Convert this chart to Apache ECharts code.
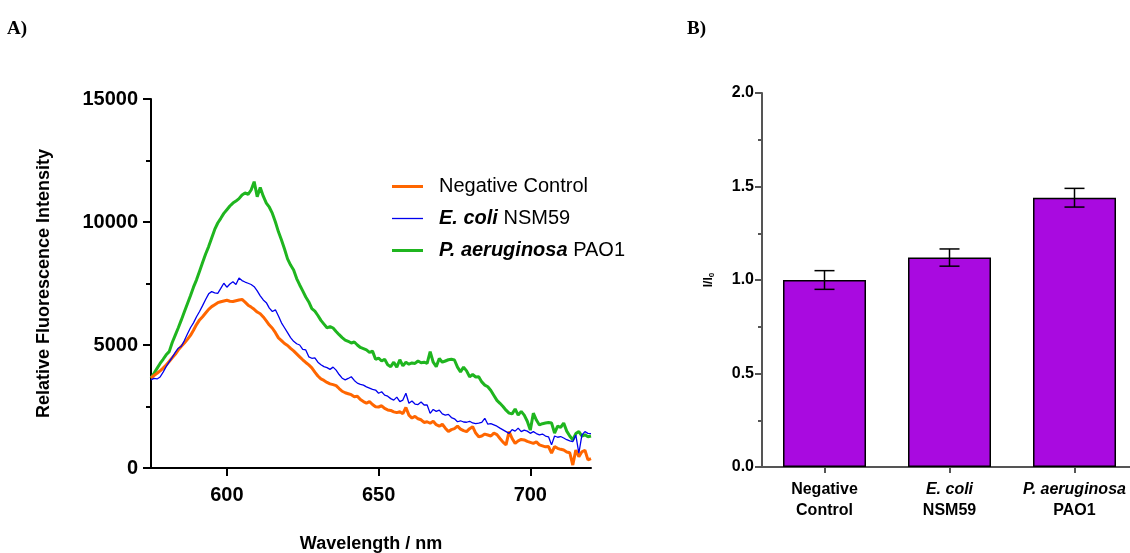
<!DOCTYPE html>
<html>
<head>
<meta charset="utf-8">
<script src="https://cdn.jsdelivr.net/npm/echarts@6/dist/echarts.min.js"></script>
<style>html,body{margin:0;padding:0;background:#fff;}#c{width:1130px;height:553px;}</style>
</head>
<body>
<div id="c"></div>
<script>
// ---- Panel A data ----
const wavelengths = [575,576,577,578,579,580,581,582,583,584,585,586,587,588,589,590,591,592,593,594,595,596,597,598,599,600,601,602,603,604,605,606,607,608,609,610,611,612,613,614,615,616,617,618,619,620,621,622,623,624,625,626,627,628,629,630,631,632,633,634,635,636,637,638,639,640,641,642,643,644,645,646,647,648,649,650,651,652,653,654,655,656,657,658,659,660,661,662,663,664,665,666,667,668,669,670,671,672,673,674,675,676,677,678,679,680,681,682,683,684,685,686,687,688,689,690,691,692,693,694,695,696,697,698,699,700,701,702,703,704,705,706,707,708,709,710,711,712,713,714,715,716,717,718,719,720];
const negativeControl = [3660,3760,3850,3950,4060,4190,4330,4480,4620,4800,4950,5080,5230,5390,5600,5830,6020,6150,6300,6450,6560,6640,6720,6760,6790,6820,6780,6770,6800,6830,6850,6740,6620,6540,6450,6340,6270,6140,5980,5810,5680,5500,5290,5180,5060,4980,4860,4760,4640,4520,4400,4290,4190,4070,3900,3740,3620,3560,3480,3420,3390,3350,3230,3120,3060,3020,2980,2900,2920,2780,2700,2640,2700,2580,2490,2480,2530,2420,2360,2340,2280,2250,2290,2210,2460,2150,2030,2100,2000,1960,1850,1880,1820,1900,1760,1700,1780,1620,1480,1560,1600,1700,1580,1520,1480,1600,1680,1420,1270,1300,1380,1340,1300,1420,1360,1200,1050,940,1480,1200,1000,1100,1160,1140,1080,1040,1000,1060,940,900,860,870,600,870,800,760,730,650,620,120,730,460,660,720,330,380];
const eColi = [3580,3640,3620,3700,3900,4120,4310,4500,4700,4870,4950,5180,5450,5700,5900,6150,6360,6600,6850,7080,7170,7120,7100,7300,7510,7350,7480,7570,7460,7720,7620,7560,7510,7460,7370,7200,7000,6830,6720,6500,6360,6430,6180,5900,5700,5500,5300,5150,5050,5000,4820,4800,4520,4460,4480,4300,4200,4120,4080,4010,4100,3980,3800,3650,3580,3640,3710,3560,3450,3400,3370,3300,3250,3200,3170,3040,3100,2960,2920,2820,2760,2880,2700,2760,3040,2630,2720,2600,2580,2680,2560,2560,2220,2380,2300,2350,2200,2150,2180,2050,2000,1880,1920,1870,1860,1900,1830,1800,1820,1850,2020,1780,1800,1750,1700,1620,1550,1480,1410,1560,1500,1620,1480,1540,1500,1410,1480,1400,1350,1380,1300,1270,940,1300,1250,1280,1220,1150,1100,1070,1340,600,1340,1480,1410,1400];
const pAeruginosa = [3660,3850,4050,4250,4420,4600,4730,5100,5400,5700,6020,6350,6680,7000,7350,7650,8000,8350,8700,9000,9350,9700,9960,10150,10350,10500,10650,10770,10850,10950,11100,11180,11120,11300,11640,11030,11400,11050,10770,10600,10350,10000,9600,9270,8900,8500,8250,8050,7700,7440,7200,6950,6750,6480,6380,6200,6000,5850,5700,5750,5690,5550,5420,5300,5200,5150,5080,5120,5000,4900,4850,4800,4700,4750,4420,4470,4350,4420,4200,4120,4300,4100,4400,4150,4300,4220,4270,4250,4350,4280,4300,4250,4730,4300,4120,4450,4300,4350,4400,4420,4390,4100,3910,4100,3950,3710,3800,3700,3710,3500,3370,3300,3150,2950,2750,2630,2500,2350,2230,2200,2400,2150,2300,2150,1900,1540,2230,1950,1750,1800,1830,1850,1830,1420,1700,1650,1830,1500,1300,1140,1400,1480,1300,1350,1270,1300];
const seriesNames = ['Negative Control', 'E. coli NSM59', 'P. aeruginosa PAO1'];
const xTickValues = [600, 650, 700];

// ---- Panel B data ----
const barCategories = ['Negative\nControl', 'E. coli\nNSM59', 'P. aeruginosa\nPAO1'];
const italicFirstLine = [false, true, true];
const ratioValues = [1.00, 1.12, 1.44];
const ratioErrors = [0.05, 0.046, 0.05];

const SANS = '"Liberation Sans", Arial, sans-serif';

function pairs(ys){ return wavelengths.map((w,i)=>[w, ys[i]]); }

const chart = echarts.init(document.getElementById('c'), null, {renderer:'canvas'});
chart.setOption({
  animation: false,
  backgroundColor: '#fff',
  title: [
    {text:'A)', left:2, top:15, textStyle:{fontFamily:'"Liberation Serif", "Times New Roman", serif', fontWeight:'bold', fontSize:19, color:'#000'}},
    {text:'B)', left:682, top:15, textStyle:{fontFamily:'"Liberation Serif", "Times New Roman", serif', fontWeight:'bold', fontSize:19, color:'#000'}}
  ],
  legend: {
    orient: 'vertical',
    left: 387, top: 171,
    itemWidth: 31, itemHeight: 14, itemGap: 11,
    data: [
      {name: seriesNames[0], icon: 'path://M0,0 L31,0 L31,3 L0,3 Z', itemStyle:{color:'#ff6600'}},
      {name: seriesNames[1], icon: 'path://M0,0 L31,0 L31,1.3 L0,1.3 Z', itemStyle:{color:'#0000ee'}},
      {name: seriesNames[2], icon: 'path://M0,0 L31,0 L31,3 L0,3 Z', itemStyle:{color:'#1fb51f'}}
    ],
    formatter: function(name){
      if (name === 'E. coli NSM59') return '{i|E. coli} NSM59';
      if (name === 'P. aeruginosa PAO1') return '{i|P. aeruginosa} PAO1';
      return name;
    },
    textStyle: {
      fontFamily: SANS, fontSize: 20, color:'#000', lineHeight: 21, padding:[0,0,0,11],
      rich: { i: {fontFamily: SANS, fontSize: 20, fontStyle:'italic', fontWeight:'bold', color:'#000'} }
    }
  },
  grid: [
    {left:151, top:99, width:440, height:369, outerBoundsMode:'none', containLabel:false},
    {left:762, top:93, width:375, height:374, outerBoundsMode:'none', containLabel:false}
  ],
  xAxis: [
    {
      gridIndex:0, type:'value', min:575, max:720,
      axisLine:{show:true, onZero:false, lineStyle:{color:'#000', width:2}},
      axisTick:{show:true, length:8, lineStyle:{color:'#000', width:2}, customValues: xTickValues},
      axisLabel:{fontFamily:SANS, fontWeight:'bold', fontSize:20, color:'#000', margin:17, customValues: xTickValues, formatter: v => String(v)},
      splitLine:{show:false},
      name:'Wavelength / nm', nameLocation:'middle', nameGap:67,
      nameTextStyle:{fontFamily:SANS, fontWeight:'bold', fontSize:18, color:'#000'}
    },
    {
      gridIndex:1, type:'category', data: barCategories,
      axisLine:{show:true, lineStyle:{color:'#555', width:2}},
      axisTick:{show:true, alignWithLabel:true, length:6, lineStyle:{color:'#555', width:2}},
      axisLabel:{
        margin:12, interval:0, color:'#000',
        formatter: function(v, idx){
          const parts = v.split('\n');
          return (italicFirstLine[idx] ? '{it|' + parts[0] + '}' : '{b|' + parts[0] + '}') + '\n{b|' + parts[1] + '}';
        },
        rich: {
          b:{fontFamily:SANS, fontWeight:'bold', fontSize:16, color:'#000', lineHeight:21},
          it:{fontFamily:SANS, fontWeight:'bold', fontStyle:'italic', fontSize:16, color:'#000', lineHeight:21}
        }
      },
      splitLine:{show:false}
    }
  ],
  yAxis: [
    {
      gridIndex:0, type:'value', min:0, max:15000, interval:5000,
      axisLine:{show:true, lineStyle:{color:'#000', width:2}},
      axisTick:{show:true, length:8, lineStyle:{color:'#000', width:2}},
      minorTick:{show:true, splitNumber:2, length:5, lineStyle:{color:'#000', width:2}},
      axisLabel:{fontFamily:SANS, fontWeight:'bold', fontSize:20, color:'#000', margin:13, formatter: v => String(v)},
      splitLine:{show:false}, minorSplitLine:{show:false},
      name:'Relative Fluorescence Intensity', nameLocation:'middle', nameGap:98, nameRotate:90,
      nameTextStyle:{fontFamily:SANS, fontWeight:'bold', fontSize:18, color:'#000'}
    },
    {
      gridIndex:1, type:'value', min:0, max:2, interval:0.5,
      axisLine:{show:true, lineStyle:{color:'#555', width:2}},
      axisTick:{show:true, length:7, lineStyle:{color:'#555', width:2}},
      minorTick:{show:true, splitNumber:2, length:4, lineStyle:{color:'#555', width:2}},
      axisLabel:{fontFamily:SANS, fontWeight:'bold', fontSize:16, color:'#000', margin:8, formatter: v => v.toFixed(1)},
      splitLine:{show:false}, minorSplitLine:{show:false},
      name:'I/I{s|0}', nameLocation:'middle', nameGap:46, nameRotate:90,
      nameTextStyle:{fontFamily:SANS, fontWeight:'bold', fontSize:12, color:'#000',
        rich:{s:{fontFamily:SANS, fontWeight:'bold', fontSize:8, color:'#000', verticalAlign:'bottom', padding:[6,0,0,0]}}}
    }
  ],
  series: [
    {name: seriesNames[0], type:'line', xAxisIndex:0, yAxisIndex:0, data: pairs(negativeControl), showSymbol:false, symbol:'none',
      lineStyle:{color:'#ff6600', width:3}, itemStyle:{color:'#ff6600'}, z:3},
    {name: seriesNames[1], type:'line', xAxisIndex:0, yAxisIndex:0, data: pairs(eColi), showSymbol:false, symbol:'none',
      lineStyle:{color:'#0000ee', width:1.3}, itemStyle:{color:'#0000ee'}, z:4},
    {name: seriesNames[2], type:'line', xAxisIndex:0, yAxisIndex:0, data: pairs(pAeruginosa), showSymbol:false, symbol:'none',
      lineStyle:{color:'#1fb51f', width:3}, itemStyle:{color:'#1fb51f'}, z:2},
    {name:'ratio', type:'bar', xAxisIndex:1, yAxisIndex:1, data: ratioValues, barWidth:83,
      itemStyle:{color:'#a90ae0', borderColor:'#000', borderWidth:1.5}},
    {name:'ratioErr', type:'custom', xAxisIndex:1, yAxisIndex:1, z:5,
      data: ratioValues.map((v,i)=>[i, v, ratioErrors[i]]),
      encode:{x:0, y:1},
      renderItem: function(params, api){
        const x = api.value(0), y = api.value(1), e = api.value(2);
        const hi = api.coord([x, y+e]), lo = api.coord([x, y-e]);
        const hw = 10;
        const st = {stroke:'#000', lineWidth:1.5};
        return {type:'group', children:[
          {type:'line', shape:{x1:hi[0], y1:hi[1], x2:lo[0], y2:lo[1]}, style:st},
          {type:'line', shape:{x1:hi[0]-hw, y1:hi[1], x2:hi[0]+hw, y2:hi[1]}, style:st},
          {type:'line', shape:{x1:lo[0]-hw, y1:lo[1], x2:lo[0]+hw, y2:lo[1]}, style:st}
        ]};
      }
    }
  ]
});
</script>
</body>
</html>
